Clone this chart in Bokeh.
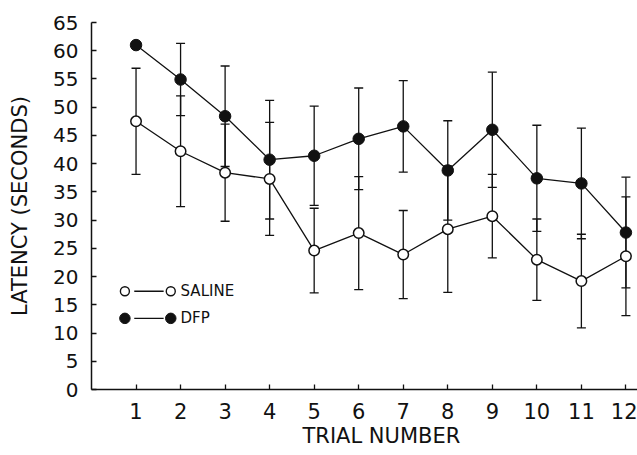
from bokeh.plotting import figure
from bokeh.models import Range1d, FixedTicker, Label, Title
from bokeh.embed import file_html
from bokeh.resources import INLINE

# ---- data ----
trials = [1, 2, 3, 4, 5, 6, 7, 8, 9, 10, 11, 12]
saline = [47.5, 42.2, 38.4, 37.3, 24.6, 27.7, 23.9, 28.4, 30.7, 23.0, 19.2, 23.6]
saline_se = [9.4, 9.8, 8.6, 10.0, 7.5, 10.0, 7.8, 11.2, 7.4, 7.2, 8.3, 10.5]
dfp = [61.0, 54.9, 48.4, 40.7, 41.4, 44.4, 46.6, 38.8, 46.0, 37.4, 36.5, 27.8]
dfp_se = [0.0, 6.4, 8.9, 10.5, 8.8, 9.0, 8.1, 8.8, 10.2, 9.4, 9.8, 9.8]
y_ticks = [0, 5, 10, 15, 20, 25, 30, 35, 40, 45, 50, 55, 60, 65]
x_ticks = trials
series_names = ["SALINE", "DFP"]
x_title = "TRIAL NUMBER"
y_title = "LATENCY (SECONDS)"

FONT = "DejaVu Sans"
INK = "#111111"

p = figure(width=637, height=455, output_backend="svg", toolbar_location=None,
           x_range=Range1d(0, 12.26), y_range=Range1d(0, 65),
           min_border_left=91, min_border_right=0, min_border_top=22, min_border_bottom=66)
p.outline_line_color = None
p.grid.visible = False
p.background_fill_color = "white"

for ax in (p.xaxis[0], p.yaxis[0]):
    ax.axis_line_color = INK
    ax.axis_line_width = 1.5
    ax.major_tick_line_color = INK
    ax.major_tick_line_width = 1.3
    ax.major_tick_in = 5
    ax.major_tick_out = 0
    ax.minor_tick_line_color = None
    ax.major_label_text_font = FONT
    ax.major_label_text_color = INK
    ax.axis_label_text_font = FONT
    ax.axis_label_text_font_size = "21px"
    ax.axis_label_text_font_style = "normal"
    ax.axis_label_text_color = INK

p.xaxis.major_label_text_font_size = "21px"
p.yaxis.major_label_text_font_size = "20px"
p.xaxis.ticker = FixedTicker(ticks=x_ticks)
p.yaxis.ticker = FixedTicker(ticks=y_ticks)
p.yaxis.axis_label = y_title
p.xaxis.major_label_standoff = 13
p.yaxis.major_label_standoff = 13
p.yaxis.axis_label_standoff = 18

# x-axis title, placed a little right of the frame centre (as in the original)
p.add_layout(Title(text=x_title, align="left", offset=211, standoff=0,
                   text_font=FONT, text_font_size="21px", text_font_style="normal",
                   text_color=INK), "below")

CAP = 9

def error_bars(y, se):
    xs, lo, hi = [], [], []
    for xi, yi, si in zip(trials, y, se):
        if si > 0:
            xs.append(xi)
            lo.append(yi - si)
            hi.append(yi + si)
    p.segment(x0=xs, y0=lo, x1=xs, y1=hi, line_color=INK, line_width=1.3)
    p.scatter(x=xs + xs, y=lo + hi, marker="dash", size=CAP, line_color=INK, line_width=1.3)

error_bars(saline, saline_se)
error_bars(dfp, dfp_se)

p.line(trials, saline, line_color=INK, line_width=1.3)
p.line(trials, dfp, line_color=INK, line_width=1.3)
p.scatter(trials, saline, marker="circle", size=10.5, fill_color="white", line_color=INK, line_width=1.5)
p.scatter(trials, dfp, marker="circle", size=11.5, fill_color=INK, line_color=INK, line_width=1)

# ---- legend (drawn by hand: marker — marker  label) ----
LEG_X0, LEG_X1 = 0.75, 1.78
LEG_LX0, LEG_LX1 = 0.96, 1.62
LEG_TX = 2.0
LEG_Y = [17.4, 12.6]
p.segment(x0=[LEG_LX0, LEG_LX0], y0=LEG_Y, x1=[LEG_LX1, LEG_LX1], y1=LEG_Y, line_color=INK, line_width=1.3)
p.scatter([LEG_X0, LEG_X1], [LEG_Y[0]] * 2, marker="circle", size=9, fill_color="white", line_color=INK, line_width=1.4)
p.scatter([LEG_X0, LEG_X1], [LEG_Y[1]] * 2, marker="circle", size=10.5, fill_color=INK, line_color=INK)
for name, yy in zip(series_names, LEG_Y):
    p.add_layout(Label(x=LEG_TX, y=yy, text=name, text_font=FONT, text_font_size="15px",
                       text_baseline="middle", text_color=INK))

open("out.html", "w").write(file_html(p, INLINE))
